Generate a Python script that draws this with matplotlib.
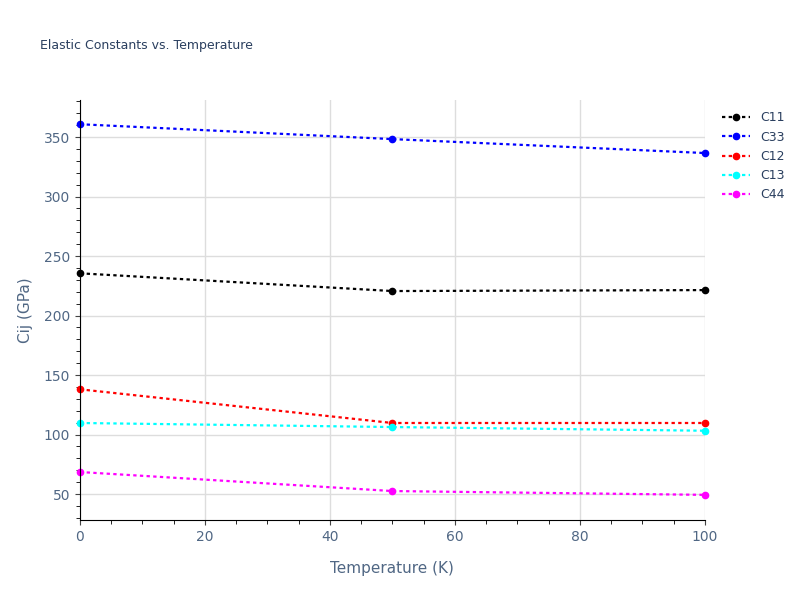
import matplotlib
matplotlib.use("Agg")
import matplotlib.pyplot as plt
from matplotlib.ticker import MultipleLocator

temps = [0, 50, 100]
c11 = [235.5, 220.6, 221.4]
c33 = [360.8, 348.3, 336.6]
c12 = [138.0, 109.7, 109.7]
c13 = [109.7, 106.3, 103.2]
c44 = [68.5, 52.5, 49.3]
series = [("C11", c11, "black"), ("C33", c33, "blue"), ("C12", c12, "red"),
          ("C13", c13, "cyan"), ("C44", c44, "magenta")]

fig = plt.figure(figsize=(8, 6), dpi=100)
ax = fig.add_axes([0.1, 0.133, 0.781, 0.7])
for name, vals, col in series:
    ax.plot(temps, vals, linestyle=(0, (1.5, 1.5)), color=col, lw=1.6,
            marker="o", markersize=4.5, label=name, clip_on=False)
ax.set_xlim(0, 100)
ax.set_ylim(28, 381)
ax.xaxis.set_major_locator(MultipleLocator(20))
ax.yaxis.set_major_locator(MultipleLocator(50))
ax.xaxis.set_minor_locator(MultipleLocator(5))
ax.yaxis.set_minor_locator(MultipleLocator(10))
ax.grid(True, which="major", color="#dddddd", lw=1)
ax.set_axisbelow(True)
for s in ["top", "right"]:
    ax.spines[s].set_visible(False)
ax.tick_params(colors="#444444", labelcolor="#506784", labelsize=10)
ax.tick_params(which="minor", length=3)
ax.set_xlabel("Temperature (K)", color="#506784", fontsize=11, labelpad=12)
ax.set_ylabel("Cij (GPa)", color="#506784", fontsize=11, labelpad=8)
fig.text(0.05, 0.925, "Elastic Constants vs. Temperature", color="#2a3f5f",
         fontsize=9, va="center")
ax.legend(loc="upper left", bbox_to_anchor=(1.01, 1.0), frameon=False,
          fontsize=9, labelcolor="#2a3f5f", handlelength=2.2)
fig.savefig("out.png", dpi=100)
